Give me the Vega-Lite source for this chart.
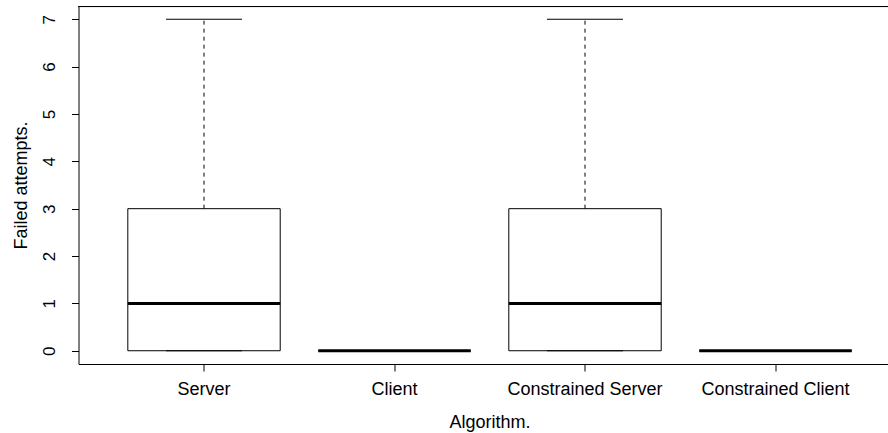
{
  "$schema": "https://vega.github.io/schema/vega-lite/v6.json",
  "width": 809.5,
  "height": 358,
  "autosize": {"type": "none"},
  "padding": {"left": 78.5, "top": 6, "right": 0, "bottom": 69},
  "background": "white",
  "config": {
    "view": {"stroke": null},
    "font": "Liberation Sans",
    "axis": {"grid": false, "domainColor": "black", "tickColor": "black", "labelColor": "black", "titleColor": "black", "titleFontWeight": "normal", "labelFontWeight": "normal", "labelFont": "Liberation Sans", "titleFont": "Liberation Sans"}
  },
  "data": {
    "values": [
      {"algorithm": "Server", "min": 0, "q1": 0, "median": 1, "q3": 3, "max": 7},
      {"algorithm": "Client", "min": 0, "q1": 0, "median": 0, "q3": 0, "max": 0},
      {"algorithm": "Constrained Server", "min": 0, "q1": 0, "median": 1, "q3": 3, "max": 7},
      {"algorithm": "Constrained Client", "min": 0, "q1": 0, "median": 0, "q3": 0, "max": 0}
    ]
  },
  "layer": [
    {
      "mark": {"type": "rule", "color": "black", "strokeWidth": 1, "strokeDash": [4, 4]},
      "encoding": {
        "x": {
          "field": "algorithm",
          "type": "nominal",
          "sort": null,
          "scale": {"type": "band", "paddingInner": 0, "paddingOuter": 0.1247, "align": 0.637},
          "axis": {
            "orient": "bottom",
            "title": "Algorithm.",
            "labelAngle": 0,
            "labelFontSize": 18,
            "labelFontWeight": "normal",
            "labelBaseline": "alphabetic",
            "labelPadding": 23,
            "tickSize": 7,
            "domainColor": "black",
            "titleFontSize": 18,
            "titleFontWeight": "normal",
            "titleBaseline": "alphabetic",
            "titleAlign": "center",
            "titleX": 411,
            "titleY": 63
          }
        },
        "y": {
          "field": "q3",
          "type": "quantitative",
          "scale": {"domain": [-0.28, 7.28], "nice": false, "zero": false},
          "axis": {
            "title": "Failed attempts.",
            "values": [0, 1, 2, 3, 4, 5, 6, 7],
            "tickSize": 7,
            "labelAngle": 270,
            "labelAlign": "center",
            "labelBaseline": "alphabetic",
            "labelPadding": 17,
            "labelFontSize": 17,
            "labelFontWeight": "normal",
            "titleFontSize": 18,
            "titleFontWeight": "normal",
            "titleAngle": 270,
            "titleAlign": "center",
            "titleBaseline": "alphabetic",
            "titleX": -52,
            "titleY": 179
          }
        },
        "y2": {"field": "max"}
      }
    },
    {
      "mark": {"type": "rule", "color": "black", "strokeWidth": 1, "strokeDash": [4, 4]},
      "encoding": {
        "x": {"field": "algorithm", "type": "nominal", "sort": null},
        "y": {"field": "min", "type": "quantitative"},
        "y2": {"field": "q1"}
      }
    },
    {
      "mark": {"type": "bar", "fill": "white", "stroke": "black", "strokeWidth": 1, "width": {"band": 0.8}},
      "encoding": {
        "x": {"field": "algorithm", "type": "nominal", "sort": null},
        "y": {"field": "q1", "type": "quantitative"},
        "y2": {"field": "q3"}
      }
    },
    {
      "mark": {"type": "tick", "color": "black", "size": 76, "thickness": 1, "opacity": 1},
      "encoding": {
        "x": {"field": "algorithm", "type": "nominal", "sort": null},
        "y": {"field": "max", "type": "quantitative"}
      }
    },
    {
      "mark": {"type": "tick", "color": "black", "size": 76, "thickness": 1, "opacity": 1},
      "encoding": {
        "x": {"field": "algorithm", "type": "nominal", "sort": null},
        "y": {"field": "min", "type": "quantitative"}
      }
    },
    {
      "mark": {"type": "tick", "color": "black", "size": 152.4, "thickness": 3, "opacity": 1},
      "encoding": {
        "y": {"field": "median", "type": "quantitative"},
        "x": {"field": "algorithm", "type": "nominal", "sort": null}
      }
    },
    {
      "mark": {"type": "rule", "color": "black", "strokeWidth": 1},
      "encoding": {
        "y": {"datum": 7.269}
      }
    }
  ]
}
